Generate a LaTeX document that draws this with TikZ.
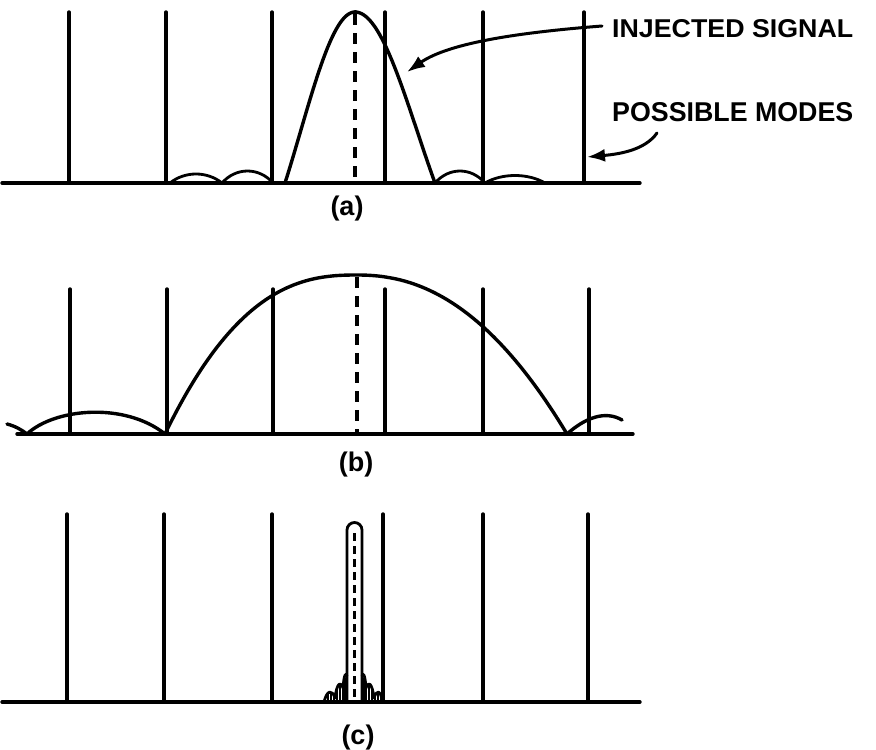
\documentclass[tikz,border=0pt]{standalone}
\usepackage{fontspec}
\setmainfont{Liberation Sans}
\usetikzlibrary{arrows.meta}
\begin{document}
\begin{tikzpicture}[x=1pt,y=-1pt,
  ln/.style={line width=3.4pt,line cap=round,line join=round},
  thin/.style={line width=2.8pt,line cap=round,line join=round},
  ctr/.style={line width=3.2pt,dash pattern=on 11pt off 8pt},
  arr/.style={line width=3pt,line cap=round,-{Latex[length=18pt,width=13pt]}},
  lbl/.style={inner sep=0pt,font=\fontsize{27}{27}\selectfont\bfseries}]
\useasboundingbox (0,0) rectangle (876,750);

% ---------------- panel (a) ----------------
\draw[ln] (2,183) -- (640,183);
\foreach \px in {69,166,272,385,483,584} \draw[ln] (\px,12) -- (\px,183);
\draw[ctr] (355,14) -- (355,183);
\draw[ln] plot[domain=-70:-0.01,samples=50]
    ({355+\x},{183-171*0.5*(sin(180*\x/70)/(pi*\x/70)+cos(90*\x/70))})
  -- plot[domain=0.01:80,samples=50]
    ({355+\x},{183-171*0.5*(sin(180*\x/80)/(pi*\x/80)+cos(90*\x/80))});
\draw[thin] (170,183) .. controls (185,171) and (207,171) .. (222,183);
\draw[thin] (222,183) .. controls (236,167) and (259,167) .. (273,183);
\draw[thin] (435,183) .. controls (449,167) and (471,167) .. (485,183);
\draw[thin] (485,183) .. controls (502,173) and (528,173) .. (545,183);
\node[lbl] (la) at (347,209) {(a)};

% ---------------- panel (b) ----------------
\draw[ln] (17,434) -- (633,434);
\foreach \px in {70,167,273,385,483,589} \draw[ln] (\px,289) -- (\px,434);
\draw[ctr] (357,277) -- (357,434);
\draw[ln] plot[domain=-1:0,samples=50] ({357+192*\x},{434-159*(1-pow(abs(\x),2.5))})
  -- plot[domain=0:1,samples=50] ({357+210*\x},{434-159*(1-pow(abs(\x),2.2))});
\draw[ln] (7,424) .. controls (15,426) and (22,430) .. (27,434);
\draw[ln] (27,434) .. controls (55,408) and (125,402) .. (165,434);
\draw[ln] (567,434) .. controls (585,418) and (605,410) .. (622,420);
\node[lbl] (lb) at (356,465) {(b)};

% ---------------- panel (c) ----------------
\draw[ln] (2,702) -- (640,702);
\foreach \px in {67,164,272,383,483,588} \draw[ln] (\px,514) -- (\px,702);
\draw[thin] (347,702) -- (347,530) arc[start angle=180,end angle=360,radius=7.5] -- (362,702);
\draw[line width=2.8pt,dash pattern=on 8pt off 5pt] (354.5,533) -- (354.5,700);
% side lobes with hatching
\draw[thin] (324,702) .. controls (327,690) and (332,689) .. (335,698)
            .. controls (337,682) and (341,681) .. (343,688)
            .. controls (344,674) and (346,672) .. (347,676);
\draw[thin] (362,676) .. controls (363,672) and (365,674) .. (366,688)
            .. controls (368,681) and (372,682) .. (374,698)
            .. controls (377,689) and (380,690) .. (383,702);
\foreach \hx/\ht in {328/693,331/692,334/696,337/688,340/686,343/688,345/678,
                     364/678,366/688,369/686,372/688,375/696,378/692,381/695}
  \draw[line width=2pt] (\hx,702) -- (\hx,\ht);
\node[lbl] (lc) at (358,738) {(c)};

% ---------------- labels ----------------
\node[inner sep=0pt,anchor=west] (inj) at (612,29)
  {\resizebox{241pt}{18pt}{\bfseries INJECTED SIGNAL}};
\node[inner sep=0pt,anchor=west] (pos) at (612,112)
  {\resizebox{241pt}{19pt}{\bfseries POSSIBLE MODES}};
\coordinate (injtip) at (407,72);
\coordinate (pmstart) at (657,133);
\coordinate (pmtip) at (587,157);
\draw[arr] ([xshift=-10pt,yshift=3pt]inj.west) .. controls (525,32) and (450,42) .. (injtip);
\draw[arr] (pmstart) .. controls (645,150) and (620,154) .. (pmtip);
\end{tikzpicture}
\end{document}
